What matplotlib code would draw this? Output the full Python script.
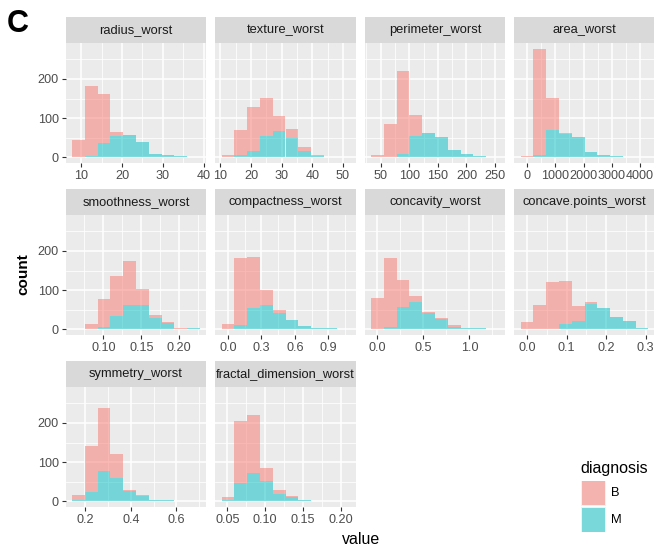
import numpy as np
import matplotlib
matplotlib.use('Agg')
import matplotlib.pyplot as plt
from matplotlib.patches import Rectangle

plt.rcParams['font.family'] = ['Liberation Sans', 'DejaVu Sans']

# histogram of the "worst" features, 10 bins each, stacked by diagnosis
variables = ['radius_worst', 'texture_worst', 'perimeter_worst', 'area_worst',
             'smoothness_worst', 'compactness_worst', 'concavity_worst',
             'concave.points_worst', 'symmetry_worst', 'fractal_dimension_worst']
bin_start = [7.81, 10.42, 33.47, -226.04, 0.05889, -0.05726, -0.06956,
             -0.01617, 0.14092, 0.04235]
bin_width = [3.123, 4.169, 22.31, 452.09, 0.016826, 0.114523, 0.139111,
             0.032333, 0.056367, 0.01694]

counts_B = [
    [45, 178, 124, 10, 0, 0, 0, 0, 0, 0],
    [6, 64, 113, 97, 40, 23, 12, 2, 0, 0],
    [6, 86, 210, 55, 0, 0, 0, 0, 0, 0],
    [4, 271, 81, 1, 0, 0, 0, 0, 0, 0],
    [2, 13, 70, 101, 114, 42, 9, 3, 3, 0],
    [13, 169, 130, 37, 7, 0, 0, 1, 0, 0],
    [81, 178, 71, 16, 2, 4, 4, 0, 0, 1],
    [19, 62, 121, 110, 38, 7, 0, 0, 0, 0],
    [12, 118, 162, 60, 4, 1, 0, 0, 0, 0],
    [6, 156, 149, 33, 10, 2, 1, 0, 0, 0],
]
counts_M = [
    [0, 4, 37, 55, 56, 39, 9, 7, 3, 2],
    [0, 6, 15, 55, 66, 49, 15, 4, 1, 1],
    [0, 0, 9, 54, 62, 52, 20, 9, 4, 2],
    [0, 6, 70, 60, 51, 13, 7, 4, 0, 1],
    [0, 0, 7, 35, 61, 62, 28, 15, 0, 4],
    [0, 12, 55, 63, 43, 23, 9, 3, 3, 1],
    [0, 5, 56, 69, 43, 26, 6, 4, 3, 0],
    [0, 1, 1, 13, 22, 64, 55, 31, 21, 4],
    [3, 24, 77, 60, 26, 14, 4, 3, 0, 1],
    [4, 48, 72, 51, 20, 12, 3, 1, 0, 1],
]

x_ticks = [
    [10, 20, 30, 40],
    [10, 20, 30, 40, 50],
    [50, 100, 150, 200, 250],
    [0, 1000, 2000, 3000, 4000],
    [0.10, 0.15, 0.20],
    [0.0, 0.3, 0.6, 0.9],
    [0.0, 0.5, 1.0],
    [0.0, 0.1, 0.2, 0.3],
    [0.2, 0.4, 0.6],
    [0.05, 0.10, 0.15, 0.20],
]
x_labels = [
    ['10', '20', '30', '40'],
    ['10', '20', '30', '40', '50'],
    ['50', '100', '150', '200', '250'],
    ['0', '1000', '2000', '3000', '4000'],
    ['0.10', '0.15', '0.20'],
    ['0.0', '0.3', '0.6', '0.9'],
    ['0.0', '0.5', '1.0'],
    ['0.0', '0.1', '0.2', '0.3'],
    ['0.2', '0.4', '0.6'],
    ['0.05', '0.10', '0.15', '0.20'],
]
y_ticks = [0, 100, 200]
diagnosis = ['B', 'M']
fill_colors = {'B': '#F8766D', 'M': '#00BFC4'}

W, H = 654, 548
fig = plt.figure(figsize=(W / 100, H / 100), dpi=100)


def px_box(left, top, width, height):
    return [left / W, 1 - (top + height) / H, width / W, height / H]


col_left = [65.7, 215.2, 364.7, 514.2]
row_top = [17.3, 189.3, 361.3]
panel_w, strip_h, panel_h = 140.6, 26, 119.5

ymax = max(max(np.array(b) + np.array(m)) for b, m in zip(counts_B, counts_M))
ylim = (-0.05 * ymax, 1.05 * ymax)

for i, name in enumerate(variables):
    r, c = divmod(i, 4)
    left, top = col_left[c], row_top[r]

    strip = fig.add_axes(px_box(left, top, panel_w, strip_h))
    strip.set_facecolor('#D9D9D9')
    strip.set_xticks([])
    strip.set_yticks([])
    for s in strip.spines.values():
        s.set_visible(False)
    strip.text(0.5, 0.5, name, ha='center', va='center', fontsize=9.3,
               color='#1A1A1A', transform=strip.transAxes)

    ax = fig.add_axes(px_box(left, top + strip_h, panel_w, panel_h))
    ax.set_facecolor('#EBEBEB')
    for s in ax.spines.values():
        s.set_visible(False)

    edges = bin_start[i] + bin_width[i] * np.arange(11)
    m = np.array(counts_M[i])
    b = np.array(counts_B[i])
    ax.bar(edges[:-1], m, width=bin_width[i], align='edge',
           color=fill_colors['M'], alpha=0.5, linewidth=0, zorder=2)
    ax.bar(edges[:-1], b, bottom=m, width=bin_width[i], align='edge',
           color=fill_colors['B'], alpha=0.5, linewidth=0, zorder=2)

    span = edges[-1] - edges[0]
    xlo, xhi = edges[0] - 0.05 * span, edges[-1] + 0.05 * span
    ax.set_xlim(xlo, xhi)
    ax.set_ylim(*ylim)

    t = np.array(x_ticks[i])
    step = t[1] - t[0]
    ext = np.concatenate([[t[0] - step], t, [t[-1] + step]])
    minor = (ext[:-1] + ext[1:]) / 2
    minor = minor[(minor > xlo) & (minor < xhi)]
    ax.set_xticks(t)
    ax.set_xticklabels(x_labels[i])
    ax.set_xticks(minor, minor=True)
    ax.set_yticks(y_ticks)
    ax.set_yticks([50, 150, 250], minor=True)

    ax.set_axisbelow(True)
    ax.grid(which='major', color='white', linewidth=1.1)
    ax.grid(which='minor', color='white', linewidth=0.55)
    ax.tick_params(which='minor', length=0)
    ax.tick_params(axis='x', which='major', length=2.75, width=0.8,
                   color='#333333', labelcolor='#4D4D4D', labelsize=9.1, pad=2.2)
    if c == 0:
        ax.tick_params(axis='y', which='major', length=2.75, width=0.8,
                       color='#333333', labelcolor='#4D4D4D', labelsize=9.1, pad=2.2)
    else:
        ax.tick_params(axis='y', which='major', length=0, labelleft=False)

fig.text(6.5 / W, 1 - 31.5 / H, 'C', fontsize=22, fontweight='bold',
         ha='left', va='baseline')
fig.text(27.5 / W, 1 - 274 / H, 'count', fontsize=11, fontweight='bold',
         rotation=90, rotation_mode='anchor', ha='center', va='baseline')
fig.text(361 / W, 1 - 544 / H, 'value', fontsize=11.5, ha='center', va='baseline')

# legend
fig.text(580.5 / W, 1 - 473 / H, 'diagnosis', fontsize=11.5, ha='left', va='baseline')
key_top = [480.7, 507.5]
for lab, kt in zip(diagnosis, key_top):
    fig.patches.append(Rectangle((581 / W, 1 - (kt + 24.8) / H), 24.8 / W, 24.8 / H,
                                 transform=fig.transFigure, facecolor='#F2F2F2',
                                 edgecolor='none'))
    fig.patches.append(Rectangle((582 / W, 1 - (kt + 24) / H), 23.2 / W, 23.3 / H,
                                 transform=fig.transFigure, facecolor=fill_colors[lab],
                                 alpha=0.5, edgecolor='none'))
    fig.text(611 / W, 1 - (kt + 12.5) / H, lab, fontsize=9.3, ha='left', va='center')

fig.savefig('out.png', dpi=100)
